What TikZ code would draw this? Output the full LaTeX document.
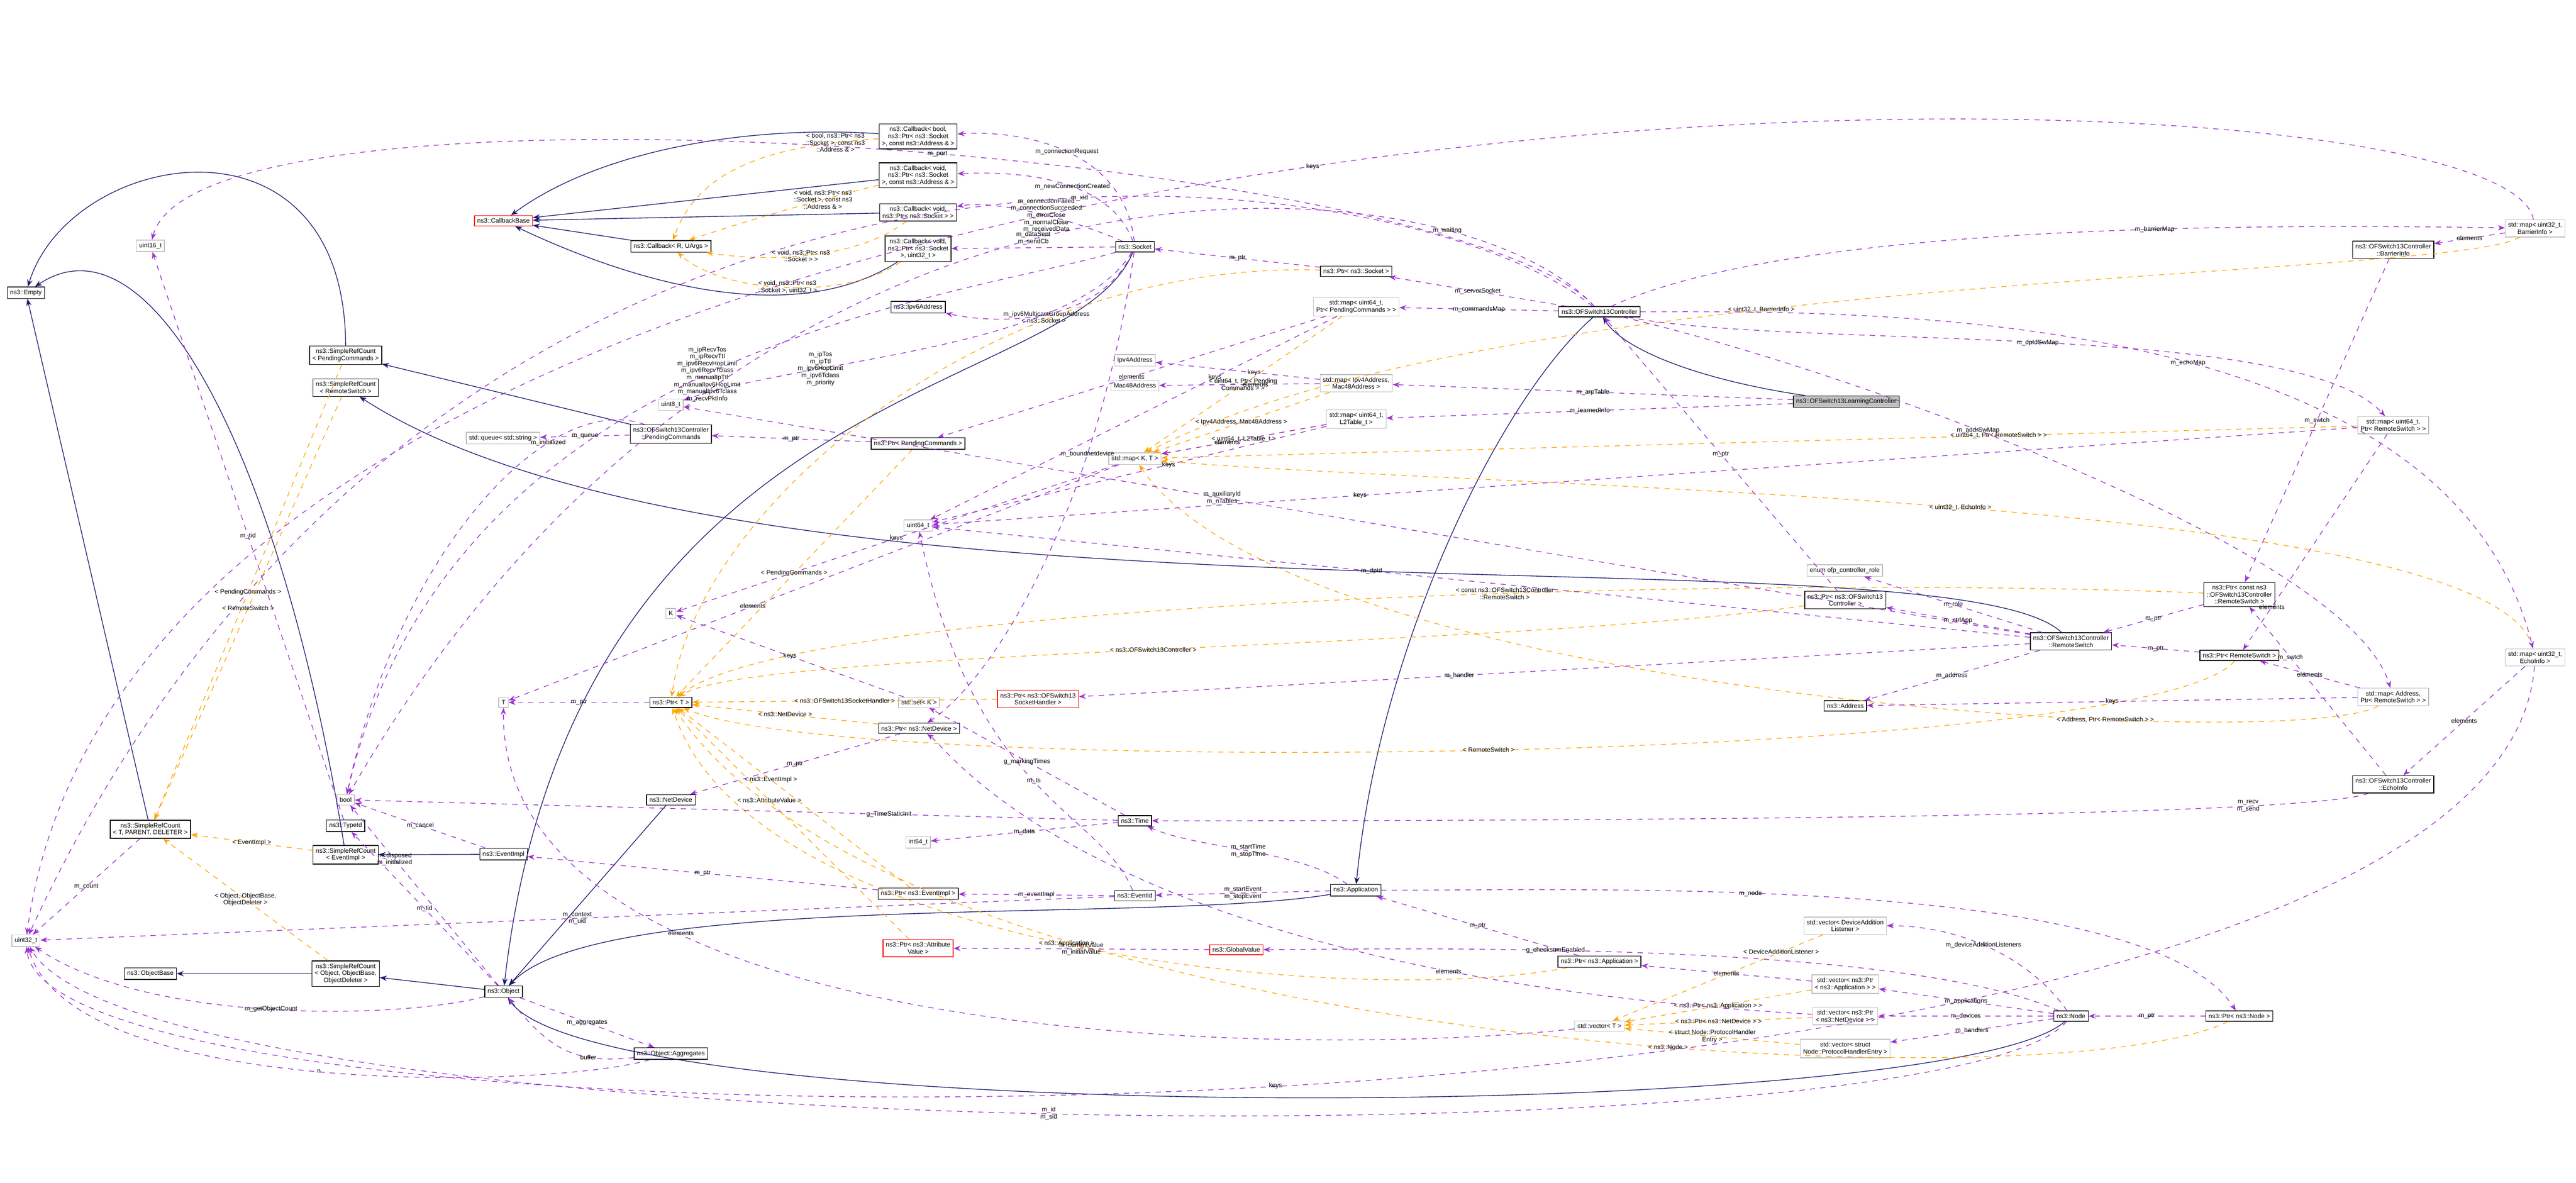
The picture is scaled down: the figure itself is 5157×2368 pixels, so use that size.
\documentclass[tikz,border=0pt]{standalone}
\usepackage{fontspec}
\setmainfont{Liberation Sans}
\usetikzlibrary{arrows.meta}
\definecolor{inhcol}{HTML}{191970}
\definecolor{usecol}{HTML}{9A32CD}
\definecolor{tplcol}{HTML}{FFA500}
\definecolor{extcol}{HTML}{BFBFBF}
\tikzset{
	cls/.style = {draw=black, fill=white, align=center, inner sep=1.6pt, font=\fontsize{3.6}{4}\selectfont},
	ext/.style = {cls, draw=extcol},
	bad/.style = {cls, draw=red},
	focus/.style = {cls, fill=extcol},
	inh/.style = {draw=inhcol, thin, -{Stealth[length=4pt,width=3pt]}},
	usedby/.style = {draw=usecol, dashed, thin, -{Stealth[length=4pt,width=3pt]}},
	tpl/.style = {draw=tplcol, dashed, thin, -{Stealth[length=4pt,width=3pt]}},
	lbl/.style = {align=center, inner sep=0.5pt, font=\fontsize{3.6}{4}\selectfont}
}
\begin{document}
\begin{tikzpicture}[x=0.01cm, y=-0.01cm]
\useasboundingbox (0,0) rectangle (5157,2368);
% left column
\node [cls] (empty) at (52,586) {ns3::Empty};
\node [ext] (u16) at (301,492) {uint16\_t};
\node [ext] (u32) at (52,1883) {uint32\_t};
\node [cls] (srct) at (301,1660) {ns3::SimpleRefCount\\< T, PARENT, DELETER >};
\node [cls] (objbase) at (301,1949) {ns3::ObjectBase};
\node [cls] (srcpc) at (692,711) {ns3::SimpleRefCount\\< PendingCommands >};
\node [cls] (srcrs) at (692,776) {ns3::SimpleRefCount\\< RemoteSwitch >};
\node [ext] (bool) at (692,1601) {bool};
\node [cls] (typeid) at (692,1653) {ns3::TypeId};
\node [cls] (srcev) at (692,1711) {ns3::SimpleRefCount\\< EventImpl >};
\node [cls] (srcobj) at (692,1949) {ns3::SimpleRefCount\\< Object, ObjectBase,\\ ObjectDeleter >};
% second column
\node [bad] (cbbase) at (1008,442) {ns3::CallbackBase};
\node [ext] (queue) at (1007,877) {std::queue< std::string >};
\node [ext] (tt) at (1008,1406) {T};
\node [cls] (evimpl) at (1008,1710) {ns3::EventImpl};
\node [cls] (object) at (1008,1985) {ns3::Object};
% third column
\node [cls] (cbru) at (1343,493) {ns3::Callback< R, UArgs >};
\node [ext] (u8) at (1343,810) {uint8\_t};
\node [cls] (pending) at (1343,869) {ns3::OFSwitch13Controller\\::PendingCommands};
\node [ext] (kk) at (1343,1228) {K};
\node [cls] (ptrt) at (1343,1406) {ns3::Ptr< T >};
\node [cls] (netdev) at (1343,1601) {ns3::NetDevice};
\node [cls] (aggr) at (1343,2109) {ns3::Object::Aggregates};
% fourth column
\node [cls] (cbbool) at (1838,273) {ns3::Callback< bool,\\ ns3::Ptr< ns3::Socket\\ >, const ns3::Address \& >};
\node [cls] (cbaddr) at (1838,351) {ns3::Callback< void,\\ ns3::Ptr< ns3::Socket\\ >, const ns3::Address \& >};
\node [cls] (cbsock) at (1838,425) {ns3::Callback< void,\\ ns3::Ptr< ns3::Socket > >};
\node [cls] (cbu32) at (1838,498) {ns3::Callback< void,\\ ns3::Ptr< ns3::Socket\\ >, uint32\_t >};
\node [cls] (ipv6) at (1838,615) {ns3::Ipv6Address};
\node [cls] (ptrpc) at (1838,888) {ns3::Ptr< PendingCommands >};
\node [ext] (u64) at (1838,1052) {uint64\_t};
\node [ext] (setk) at (1840,1406) {std::set< K >};
\node [cls] (ptrnd) at (1840,1458) {ns3::Ptr< ns3::NetDevice >};
\node [ext] (i64) at (1838,1686) {int64\_t};
\node [cls] (ptrev) at (1838,1789) {ns3::Ptr< ns3::EventImpl >};
\node [bad] (ptrav) at (1838,1898) {ns3::Ptr< ns3::Attribute\\Value >};
\node [bad] (ptrsh) at (2078,1399) {ns3::Ptr< ns3::OFSwitch13\\SocketHandler >};
% fifth column
\node [cls] (socket) at (2272,494) {ns3::Socket};
\node [ext] (ipv4) at (2272,721) {Ipv4Address};
\node [ext] (mac) at (2272,772) {Mac48Address};
\node [ext] (mapkt) at (2272,918) {std::map< K, T >};
\node [cls] (time) at (2272,1643) {ns3::Time};
\node [cls] (evid) at (2272,1793) {ns3::EventId};
\node [bad] (gval) at (2475,1901) {ns3::GlobalValue};
% sixth column
\node [cls] (ptrsock) at (2715,543) {ns3::Ptr< ns3::Socket >};
\node [ext] (mappc) at (2715,614) {std::map< uint64\_t,\\ Ptr< PendingCommands > >};
\node [ext] (maparp) at (2715,767) {std::map< Ipv4Address,\\ Mac48Address >};
\node [ext] (mapl2) at (2715,839) {std::map< uint64\_t,\\ L2Table\_t >};
\node [cls] (app) at (2714,1782) {ns3::Application};
% seventh column
\node [cls] (ctrl) at (3202,624) {ns3::OFSwitch13Controller};
\node [cls] (ptrapp) at (3202,1925) {ns3::Ptr< ns3::Application >};
\node [ext] (vect) at (3202,2054) {std::vector< T >};
% eighth column
\node [focus] (learn) at (3696,804) {ns3::OFSwitch13LearningController};
\node [ext] (role) at (3693,1142) {enum ofp\_controller\_role};
\node [cls] (ptrctrl) at (3694,1201) {ns3::Ptr< ns3::OFSwitch13\\Controller >};
\node [cls] (address) at (3694,1413) {ns3::Address};
\node [ext] (vecdal) at (3694,1853) {std::vector< DeviceAddition\\Listener >};
\node [ext] (vecapp) at (3694,1970) {std::vector< ns3::Ptr\\< ns3::Application > >};
\node [ext] (vecnd) at (3694,2034) {std::vector< ns3::Ptr\\< ns3::NetDevice > >};
\node [ext] (vecph) at (3694,2099) {std::vector< struct\\ Node::ProtocolHandlerEntry >};
% right columns
\node [cls] (remote) at (4146,1284) {ns3::OFSwitch13Controller\\::RemoteSwitch};
\node [cls] (node) at (4146,2034) {ns3::Node};
\node [cls] (ptrcrs) at (4483,1190) {ns3::Ptr< const ns3\\::OFSwitch13Controller\\::RemoteSwitch >};
\node [cls] (ptrrs) at (4483,1312) {ns3::Ptr< RemoteSwitch >};
\node [cls] (ptrnode) at (4483,2034) {ns3::Ptr< ns3::Node >};
\node [cls] (barrier) at (4791,500) {ns3::OFSwitch13Controller\\::BarrierInfo};
\node [ext] (mapdp) at (4791,851) {std::map< uint64\_t,\\ Ptr< RemoteSwitch > >};
\node [ext] (mapaddr) at (4791,1395) {std::map< Address,\\ Ptr< RemoteSwitch > >};
\node [cls] (echo) at (4791,1570) {ns3::OFSwitch13Controller\\::EchoInfo};
\node [ext] (mapbar) at (5075,457) {std::map< uint32\_t,\\ BarrierInfo >};
\node [ext] (mapecho) at (5075,1316) {std::map< uint32\_t,\\ EchoInfo >};

% inheritance
\draw [inh] (srcpc) .. controls (690,200) and (140,300) .. (empty);
\draw [inh] (srcev) .. controls (560,900) and (300,420) .. (empty);
\draw [inh] (srct) -- (empty);
\draw [inh] (pending) -- (srcpc);
\draw [inh] (remote) .. controls (3900,1050) and (1500,1300) .. (srcrs);
\draw [inh] (evimpl) -- (srcev);
\draw [inh] (srcobj) -- (objbase);
\draw [inh] (object) -- (srcobj);
\draw [inh] (cbru) -- (cbbase);
\draw [inh] (cbbool) .. controls (1500,250) and (1200,300) .. (cbbase);
\draw [inh] (cbaddr) -- (cbbase);
\draw [inh] (cbsock) -- (cbbase);
\draw [inh] (cbu32) .. controls (1600,650) and (1300,580) .. (cbbase);
\draw [inh] (netdev) -- (object);
\draw [inh] (socket) .. controls (2150,800) and (1150,750) .. (object);
\draw [inh] (app) .. controls (2300,1850) and (1200,1780) .. (object);
\draw [inh] (node) .. controls (3900,2250) and (1200,2260) .. (object);
\draw [inh] (learn) .. controls (3400,760) and (3250,700) .. (ctrl);
\draw [inh] (ctrl) .. controls (3000,800) and (2760,1300) .. (app);

% templates
\draw [tpl] (cbbool) .. controls (1560,290) and (1400,330) .. node [lbl, pos=0.15] {< bool, ns3::Ptr< ns3\\::Socket >, const ns3\\::Address \& >} (cbru);
\draw [tpl] (cbaddr) .. controls (1640,400) and (1500,440) .. node [lbl, pos=0.3] {< void, ns3::Ptr< ns3\\::Socket >, const ns3\\::Address \& >} (cbru);
\draw [tpl] (cbsock) .. controls (1700,530) and (1500,520) .. node [lbl, pos=0.5] {< void, ns3::Ptr< ns3\\::Socket > >} (cbru);
\draw [tpl] (cbu32) .. controls (1700,600) and (1450,590) .. node [lbl, pos=0.5] {< void, ns3::Ptr< ns3\\::Socket >, uint32\_t >} (cbru);
\draw [tpl] (srcpc) -- node [lbl] {< PendingCommands >} (srct);
\draw [tpl] (srcrs) -- node [lbl] {< RemoteSwitch >} (srct);
\draw [tpl] (srcev) -- node [lbl] {< EventImpl >} (srct);
\draw [tpl] (srcobj) -- node [lbl] {< Object, ObjectBase,\\ ObjectDeleter >} (srct);
\draw [tpl] (ptrsock) .. controls (2000,520) and (1400,1000) .. node [lbl, pos=0.3] {< ns3::Socket >} (ptrt);
\draw [tpl] (ptrpc) -- node [lbl] {< PendingCommands >} (ptrt);
\draw [tpl] (ptrsh) -- node [lbl] {< ns3::OFSwitch13SocketHandler >} (ptrt);
\draw [tpl] (ptrnd) -- node [lbl] {< ns3::NetDevice >} (ptrt);
\draw [tpl] (ptrev) -- node [lbl, pos=0.6] {< ns3::EventImpl >} (ptrt);
\draw [tpl] (ptrav) -- node [lbl, pos=0.6] {< ns3::AttributeValue >} (ptrt);
\draw [tpl] (ptrctrl) .. controls (3000,1300) and (1500,1300) .. node [lbl] {< ns3::OFSwitch13Controller >} (ptrt);
\draw [tpl] (ptrcrs) .. controls (3500,1150) and (1600,1200) .. node [lbl, pos=0.4] {< const ns3::OFSwitch13Controller\\::RemoteSwitch >} (ptrt);
\draw [tpl] (ptrrs) .. controls (4300,1530) and (1700,1560) .. node [lbl] {< RemoteSwitch >} (ptrt);
\draw [tpl] (ptrapp) .. controls (2700,2020) and (1500,1900) .. node [lbl] {< ns3::Application >} (ptrt);
\draw [tpl] (ptrnode) .. controls (4100,2220) and (1800,2100) .. node [lbl, pos=0.4] {< ns3::Node >} (ptrt);
\draw [tpl] (mappc) -- node [lbl] {< uint64\_t, Ptr< Pending\\Commands > >} (mapkt);
\draw [tpl] (maparp) -- node [lbl] {< Ipv4Address, Mac48Address >} (mapkt);
\draw [tpl] (mapl2) -- node [lbl] {< uint64\_t, L2Table\_t >} (mapkt);
\draw [tpl] (mapbar) .. controls (4900,560) and (3000,540) .. node [lbl, pos=0.6] {< uint32\_t, BarrierInfo >} (mapkt);
\draw [tpl] (mapdp) -- node [lbl, pos=0.3] {< uint64\_t, Ptr< RemoteSwitch > >} (mapkt);
\draw [tpl] (mapecho) .. controls (5000,990) and (3000,980) .. node [lbl, pos=0.5] {< uint32\_t, EchoInfo >} (mapkt);
\draw [tpl] (mapaddr) .. controls (4600,1510) and (2600,1400) .. node [lbl, pos=0.3] {< Address, Ptr< RemoteSwitch > >} (mapkt);
\draw [tpl] (vecdal) -- node [lbl, pos=0.2] {< DeviceAdditionListener >} (vect);
\draw [tpl] (vecapp) -- node [lbl] {< ns3::Ptr< ns3::Application > >} (vect);
\draw [tpl] (vecnd) -- node [lbl] {< ns3::Ptr< ns3::NetDevice > >} (vect);
\draw [tpl] (vecph) -- node [lbl] {< struct Node::ProtocolHandler\\Entry >} (vect);

% members
\draw [usedby] (ctrl) -- node [lbl] {m\_serverSocket} (ptrsock);
\draw [usedby] (ptrsock) -- node [lbl] {m\_ptr} (socket);
\draw [usedby] (ctrl) -- node [lbl] {m\_commandsMap} (mappc);
\draw [usedby] (ctrl) .. controls (3600,440) and (4600,450) .. node [lbl, pos=0.6] {m\_barrierMap} (mapbar);
\draw [usedby] (ctrl) .. controls (3700,624) and (4900,600) .. node [lbl, pos=0.55] {m\_echoMap} (mapecho);
\draw [usedby] (ctrl) .. controls (3600,700) and (4600,640) .. node [lbl, pos=0.5] {m\_dpIdSwMap} (mapdp);
\draw [usedby] (ctrl) .. controls (3700,740) and (4700,1100) .. node [lbl, pos=0.4] {m\_addrSwMap} (mapaddr);
\draw [usedby] (ctrl) .. controls (2800,300) and (900,50) .. node [lbl, pos=0.4] {m\_xid} (u32);
\draw [usedby] (ctrl) .. controls (2900,300) and (400,120) .. node [lbl, pos=0.45] {m\_port} (u16);
\draw [usedby] (ctrl) .. controls (2900,300) and (1500,200) .. node [lbl, pos=0.2] {m\_waiting} (bool);
\draw [usedby] (learn) -- node [lbl] {m\_arpTable} (maparp);
\draw [usedby] (learn) -- node [lbl] {m\_learnedInfo} (mapl2);
\draw [usedby] (mapbar) -- node [lbl] {elements} (barrier);
\draw [usedby] (mapbar) .. controls (5000,60) and (300,60) .. node [lbl, pos=0.5] {keys} (u32);
\draw [usedby] (barrier) -- node [lbl, pos=0.5] {m\_swtch} (ptrcrs);
\draw [usedby] (echo) -- node [lbl, pos=0.7] {m\_swtch} (ptrcrs);
\draw [usedby] (mapecho) -- node [lbl] {elements} (echo);
\draw [usedby] (mapecho) .. controls (5000,2360) and (100,2360) .. node [lbl, pos=0.5] {keys} (u32);
\draw [usedby] (ptrcrs) -- node [lbl] {m\_ptr} (remote);
\draw [usedby] (ptrrs) -- node [lbl] {m\_ptr} (remote);
\draw [usedby] (mapdp) -- node [lbl, pos=0.8] {elements} (ptrrs);
\draw [usedby] (mapdp) -- node [lbl, pos=0.7] {keys} (u64);
\draw [usedby] (mapaddr) -- node [lbl] {elements} (ptrrs);
\draw [usedby] (mapaddr) -- node [lbl] {keys} (address);
\draw [usedby] (remote) -- node [lbl] {m\_role} (role);
\draw [usedby] (remote) -- node [lbl] {m\_ctrlApp} (ptrctrl);
\draw [usedby] (remote) -- node [lbl] {m\_address} (address);
\draw [usedby] (remote) -- node [lbl, pos=0.6] {m\_dpId} (u64);
\draw [usedby] (remote) -- node [lbl, pos=0.6] {m\_auxiliaryId\\m\_nTables} (u8);
\draw [usedby] (remote) -- node [lbl, pos=0.6] {m\_handler} (ptrsh);
\draw [usedby] (ptrctrl) -- node [lbl] {m\_ptr} (ctrl);
\draw [usedby] (echo) .. controls (4600,1640) and (3000,1643) .. node [lbl, pos=0.2] {m\_recv\\m\_send} (time);
\draw [usedby] (socket) .. controls (2250,300) and (2050,260) .. node [lbl] {m\_connectionRequest} (cbbool);
\draw [usedby] (socket) .. controls (2230,380) and (2100,340) .. node [lbl] {m\_newConnectionCreated} (cbaddr);
\draw [usedby] (socket) .. controls (2150,440) and (2000,400) .. node [lbl, pos=0.45] {m\_connectionFailed\\m\_connectionSucceeded\\m\_errorClose\\m\_normalClose\\m\_receivedData} (cbsock);
\draw [usedby] (socket) -- node [lbl, above=1pt] {m\_dataSent\\m\_sendCb} (cbu32);
\draw [usedby] (socket) .. controls (2200,650) and (2000,650) .. node [lbl] {m\_ipv6MulticastGroupAddress} (ipv6);
\draw [usedby] (socket) .. controls (2150,700) and (1600,720) .. node [lbl, pos=0.7] {m\_ipTos\\m\_ipTtl\\m\_ipv6HopLimit\\m\_ipv6Tclass\\m\_priority} (u8);
\draw [usedby] (socket) .. controls (2200,1000) and (2000,1350) .. node [lbl, pos=0.3] {m\_boundnetdevice} (ptrnd);
\draw [usedby] (socket) .. controls (1900,600) and (900,700) .. node [lbl, pos=0.5] {m\_ipRecvTos\\m\_ipRecvTtl\\m\_ipv6RecvHopLimit\\m\_ipv6RecvTclass\\m\_manualIpTtl\\m\_manualIpv6HopLimit\\m\_manualIpv6Tclass\\m\_recvPktInfo} (bool);
\draw [usedby] (ptrpc) -- node [lbl] {m\_ptr} (pending);
\draw [usedby] (pending) -- node [lbl] {m\_queue} (queue);
\draw [usedby] (pending) .. controls (1100,780) and (800,1100) .. node [lbl, pos=0.3] {m\_initialized} (bool);
\draw [usedby] (mappc) -- node [lbl] {elements} (ptrpc);
\draw [usedby] (mappc) -- node [lbl, pos=0.3] {keys} (u64);
\draw [usedby] (maparp) -- node [lbl, pos=0.4] {keys} (ipv4);
\draw [usedby] (maparp) -- node [lbl, pos=0.4] {elements} (mac);
\draw [usedby] (mapl2) -- node [lbl, pos=0.6] {elements} (mapkt);
\draw [usedby] (mapl2) -- node [lbl, pos=0.4] {keys} (u64);
\draw [usedby] (mapkt) -- node [lbl] {keys} (kk);
\draw [usedby] (mapkt) -- node [lbl, pos=0.6] {elements} (tt);
\draw [usedby] (setk) -- node [lbl] {keys} (kk);
\draw [usedby] (ptrt) -- node [lbl] {m\_ptr} (tt);
\draw [usedby] (ptrnd) -- node [lbl] {m\_ptr} (netdev);
\draw [usedby] (ptrev) -- node [lbl] {m\_ptr} (evimpl);
\draw [usedby] (evimpl) -- node [lbl] {m\_cancel} (bool);
\draw [usedby] (object) -- node [lbl, pos=0.7] {m\_disposed\\m\_initialized} (bool);
\draw [usedby] (object) -- node [lbl] {m\_tid} (typeid);
\draw [usedby] (object) .. controls (800,2040) and (300,2050) .. node [lbl] {m\_getObjectCount} (u32);
\draw [usedby] (object) -- node [lbl] {m\_aggregates} (aggr);
\draw [usedby] (aggr) .. controls (1150,2130) and (1100,2100) .. node [lbl, pos=0.3] {buffer} (object);
\draw [usedby] (aggr) .. controls (1100,2180) and (150,2200) .. node [lbl] {n} (u32);
\draw [usedby] (srct) -- node [lbl] {m\_count} (u32);
\draw [usedby] (typeid) -- node [lbl] {m\_tid} (u16);
\draw [usedby] (evid) -- node [lbl] {m\_eventImpl} (ptrev);
\draw [usedby] (evid) -- node [lbl] {m\_context\\m\_uid} (u32);
\draw [usedby] (evid) .. controls (2200,1620) and (1950,1600) .. node [lbl] {m\_ts} (u64);
\draw [usedby] (time) -- node [lbl] {m\_data} (i64);
\draw [usedby] (time) -- node [lbl] {g\_markingTimes} (setk);
\draw [usedby] (time) -- node [lbl, pos=0.3] {g\_TimeStaticInit} (bool);
\draw [usedby] (app) .. controls (2600,1700) and (2400,1700) .. node [lbl] {m\_startTime\\m\_stopTime} (time);
\draw [usedby] (app) -- node [lbl] {m\_startEvent\\m\_stopEvent} (evid);
\draw [usedby] (app) .. controls (3200,1782) and (4300,1750) .. node [lbl, pos=0.4] {m\_node} (ptrnode);
\draw [usedby] (ptrnode) -- node [lbl] {m\_ptr} (node);
\draw [usedby] (ptrapp) -- node [lbl] {m\_ptr} (app);
\draw [usedby] (vecapp) -- node [lbl] {elements} (ptrapp);
\draw [usedby] (vect) .. controls (2600,2120) and (1000,2100) .. node [lbl, pos=0.7] {elements} (tt);
\draw [usedby] (node) .. controls (4050,1900) and (3900,1853) .. node [lbl] {m\_deviceAdditionListeners} (vecdal);
\draw [usedby] (node) -- node [lbl] {m\_applications} (vecapp);
\draw [usedby] (node) -- node [lbl] {m\_devices} (vecnd);
\draw [usedby] (node) -- node [lbl] {m\_handlers} (vecph);
\draw [usedby] (node) .. controls (3800,1880) and (2800,1900) .. node [lbl, pos=0.6] {g\_checksumEnabled} (gval);
\draw [usedby] (node) .. controls (3900,2330) and (300,2300) .. node [lbl, pos=0.5] {m\_id\\m\_sid} (u32);
\draw [usedby] (gval) -- node [lbl] {m\_currentValue\\m\_initialValue} (ptrav);
\draw [usedby] (vecnd) .. controls (2200,1950) and (1900,1500) .. node [lbl, pos=0.2] {elements} (ptrnd);
\end{tikzpicture}
\end{document}
